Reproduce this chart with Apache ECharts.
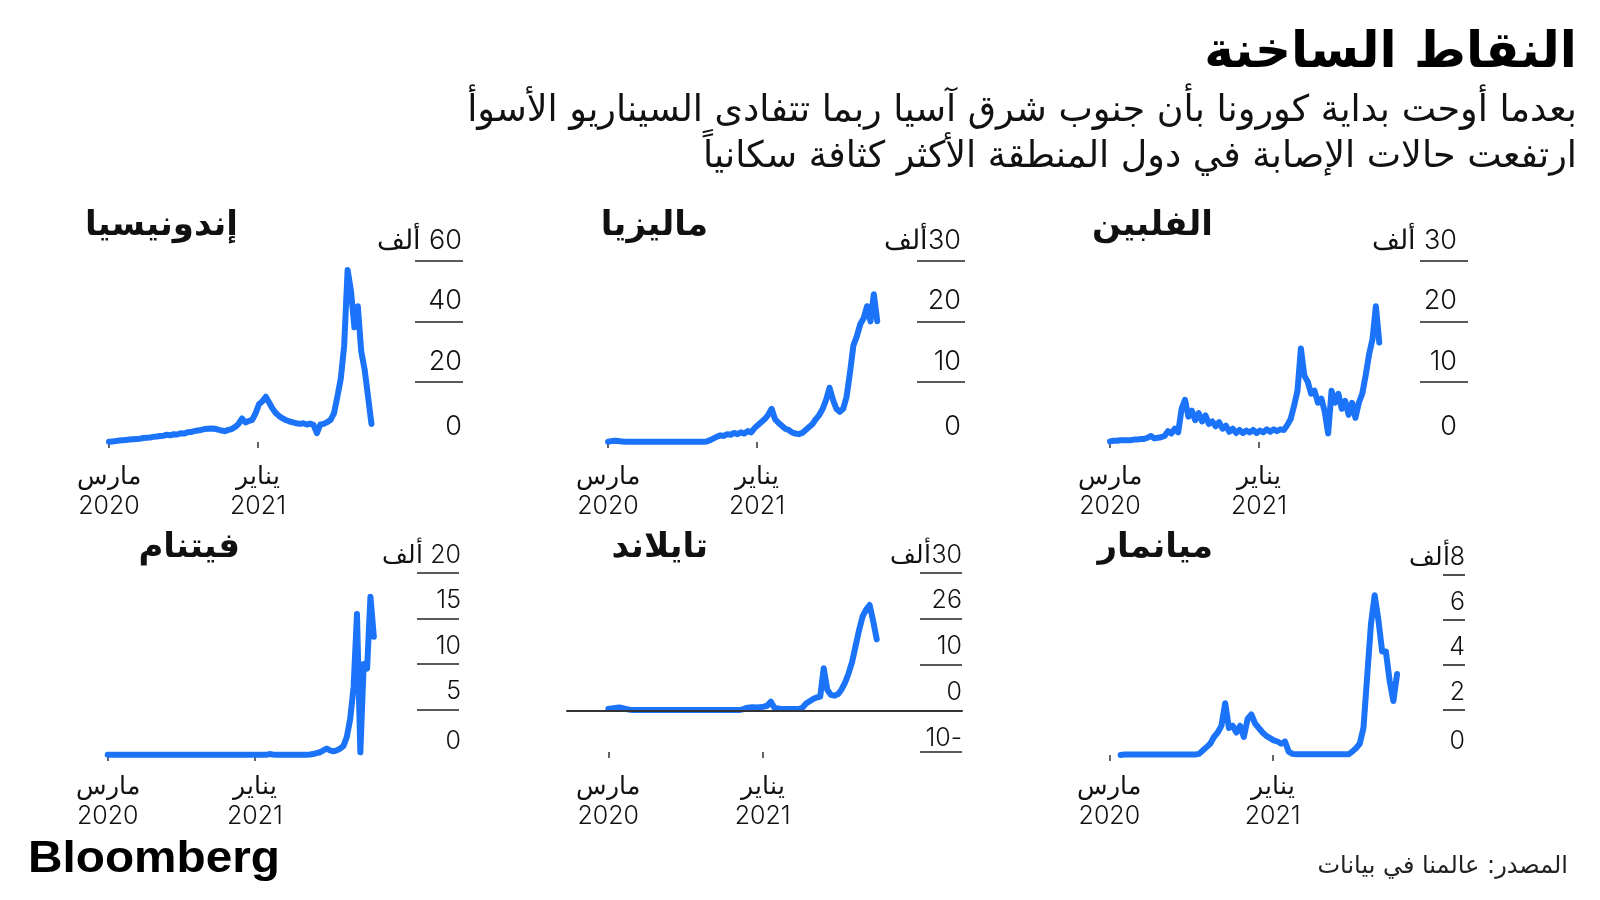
<!DOCTYPE html>
<html>
<head>
<meta charset="utf-8">
<script src="https://cdn.jsdelivr.net/npm/echarts@6/dist/echarts.min.js"></script>
<style>
html,body{margin:0;padding:0;background:#fff;}
#chart{width:1600px;height:900px;}
</style>
</head>
<body>
<div id="chart" dir="rtl"></div>
<script>
// ---------------- DATA ----------------
// x values are days since 1 March 2020; series are weekly values (thousands of daily cases)
const weekStep = 7;
const xTickDays = [0, 306];
const xTickLabels = ['مارس\n2020', 'يناير\n2021'];

const countryNames = ['الفلبين', 'ماليزيا', 'إندونيسيا', 'ميانمار', 'تايلاند', 'فيتنام'];

const philippines = [0.1,0.2,0.2,0.3,0.3,0.3,0.3,0.4,0.4,0.5,
  0.5,0.7,1.0,0.6,0.7,0.8,1.0,1.8,1.4,2.2,
  1.6,5.5,7.0,4.2,5.2,3.6,4.8,3.4,4.4,3.0,
  3.4,2.6,3.3,2.2,2.7,1.7,2.2,1.5,2.0,1.5,
  1.9,1.6,2.0,1.5,1.9,1.6,2.1,1.7,2.1,1.8,
  2.1,2.0,2.8,3.8,6.0,8.5,15.5,11,10,8.0,
  8.5,6.5,7.2,5.0,1.4,8.5,6.5,8.0,5.5,6.8,
  4.5,6.5,4.0,6.5,8.0,11,14.5,17,22.5,16.5];

const malaysia = [0.05,0.15,0.2,0.15,0.1,0.05,0.03,0.03,0.03,0.03,
  0.03,0.03,0.03,0.03,0.03,0.03,0.03,0.03,0.03,0.03,
  0.03,0.03,0.03,0.03,0.03,0.03,0.03,0.03,0.05,0.1,
  0.3,0.6,0.9,1.1,1.0,1.3,1.2,1.5,1.3,1.6,
  1.4,1.8,1.6,2.3,2.8,3.3,3.8,4.5,5.5,3.8,
  3.2,2.7,2.2,2.0,1.6,1.4,1.3,1.5,2.0,2.5,
  3.0,3.8,4.5,5.5,7.0,9.0,7.0,5.5,5.0,5.5,
  7.5,11.5,16,17.5,19.5,20.5,22.5,20,24.5,20];

const indonesia = [0.1,0.2,0.3,0.5,0.6,0.7,0.8,0.9,1.0,1.1,
  1.3,1.4,1.5,1.7,1.8,2.0,2.1,2.4,2.2,2.6,
  2.5,2.9,2.8,3.2,3.3,3.6,3.8,4.0,4.3,4.4,
  4.5,4.4,4.1,3.8,3.6,4.0,4.3,5.0,6.0,7.8,
  6.5,7.0,7.3,9.5,12.5,13.5,15,13,11,9.5,
  8.5,7.8,7.2,6.8,6.5,6.2,6.0,6.2,5.8,6.1,
  5.7,2.9,5.8,6.0,6.6,7.3,9.5,15,21,32,
  57,50,38,45,30,24,15,6];

const myanmarStartWeek = 3;
const myanmar = [0,
  0.02,0.02,0.02,0.02,0.02,0.02,0.02,0.02,0.02,0.02,
  0.02,0.02,0.02,0.02,0.02,0.02,0.02,0.02,0.02,0.02,
  0.05,0.2,0.35,0.5,0.8,1.0,1.3,2.3,1.2,1.3,
  1.0,1.3,0.8,1.6,1.8,1.4,1.2,1.0,0.85,0.75,
  0.65,0.6,0.5,0.6,0.15,0.05,
  0.03,0.03,0.03,0.03,0.03,0.03,0.03,0.03,0.03,0.03,0.03,0.03,0.03,0.03,0.03,
  0.15,0.3,0.5,1.2,3.5,5.8,7.1,6.0,4.6,4.6,3.3,2.4,3.6];

const thailand = [0.3,0.4,0.5,0.6,0.5,0.3,0.15,
  0.05,0.05,0.05,0.05,0.05,0.05,0.05,0.05,0.05,0.05,
  0.05,0.05,0.05,0.05,0.05,0.05,0.05,0.05,0.05,0.05,
  0.05,0.05,0.05,0.05,0.05,0.05,0.05,0.05,0.05,0.05,0.05,
  0.2,0.5,0.6,0.7,0.6,0.7,0.8,1.0,1.9,0.6,
  0.4,0.3,0.3,0.3,0.3,0.3,0.3,0.6,1.5,2.0,
  2.5,2.8,3.0,9.2,4.5,3.4,3.2,3.5,4.5,6.0,
  8.0,10.5,14,17.5,20.5,22,23,19.5,15.5];

const vietnam = [0.02,0.02,0.02,0.02,0.02,0.02,0.02,0.02,0.02,0.02,
  0.02,0.02,0.02,0.02,0.02,0.02,0.02,0.02,0.02,0.02,
  0.02,0.02,0.02,0.02,0.02,0.02,0.02,0.02,0.02,0.02,
  0.02,0.02,0.02,0.02,0.02,0.02,0.02,0.02,0.02,0.02,
  0.02,0.02,0.02,0.02,0.02,0.02,0.02,0.02,0.1,0.05,
  0.03,0.03,0.03,0.03,0.03,0.03,0.03,0.03,0.03,0.03,
  0.05,0.1,0.2,0.3,0.5,0.7,0.5,0.4,0.5,0.7,
  1.0,2.0,4.0,7.5,15.5,0.3,10,9.5,17.4,13];

// y-axis tick values and their labels
const phTicks = [0, 10, 20, 30];       const phLabels = ['0', '10', '20', '30 ألف'];
const myTicks = [0, 10, 20, 30];       const myLabels = ['0', '10', '20', '30ألف'];
const idTicks = [0, 20, 40, 60];       const idLabels = ['0', '20', '40', '60 ألف'];
const mmTicks = [0, 2, 4, 6, 8];       const mmLabels = ['0', '2', '4', '6', '8ألف'];
const thTicks = [-9.1, 0, 10, 20, 30]; const thLabels = ['-10', '0', '10', '26', '30ألف'];
const vnTicks = [0, 5, 10, 15, 20];    const vnLabels = ['0', '5', '10', '15', '20 ألف'];

const titleText = 'النقاط الساخنة';
const subtitleLines = ['بعدما أوحت بداية كورونا بأن جنوب شرق آسيا ربما تتفادى السيناريو الأسوأ',
  'ارتفعت حالات الإصابة في دول المنطقة الأكثر كثافة سكانياً'];
const sourceText = 'المصدر: عالمنا في بيانات';
const brandText = 'Bloomberg';

// ---------------- LAYOUT ----------------
const BLUE = '#1a73f8';
const INK = '#111';
const AR = '"DejaVu Sans"';
const NUM = 'Inter, "DejaVu Sans"';

const panels = [
  {name: countryNames[0], values: philippines, start: 0, ticks: phTicks, labels: phLabels,
   left: 1090, axisX: 1468, top: 261, bottom: 442, xMin: -41.1, xMax: 735.2,
   tickLen: 48, labelMargin: 11, yFont: 27, gapN: 40, gapB: 30, xMargin: 19,
   titleX: 1213, titleY: 226},
  {name: countryNames[1], values: malaysia, start: 0, ticks: myTicks, labels: myLabels,
   left: 580, axisX: 965, top: 261, bottom: 442, xMin: -57.5, xMax: 733.2,
   tickLen: 48, labelMargin: 4, yFont: 27, gapN: 40, gapB: 30, xMargin: 19,
   titleX: 708, titleY: 226},
  {name: countryNames[2], values: indonesia, start: 0, ticks: idTicks, labels: idLabels,
   left: 85, axisX: 463, top: 261, bottom: 442, xMin: -49.3, xMax: 727,
   tickLen: 48, labelMargin: 1, yFont: 27, gapN: 40, gapB: 30, xMargin: 19,
   titleX: 238, titleY: 226},
  {name: countryNames[3], values: myanmar, start: myanmarStartWeek, ticks: mmTicks, labels: mmLabels,
   left: 1090, axisX: 1465, top: 575, bottom: 755, xMin: -36.2, xMax: 666.2,
   tickLen: 22, labelMargin: 0, yFont: 25, gapN: 36, gapB: 28, xMargin: 16,
   titleX: 1213, titleY: 548},
  {name: countryNames[4], values: thailand, start: 0, ticks: thTicks, labels: thLabels,
   left: 567, axisX: 962, top: 573, bottom: 752, xMin: -81.8, xMax: 701,
   tickLen: 42, labelMargin: 0, yFont: 25, gapN: 36, gapB: 28, xMargin: 19, zeroLine: true,
   titleX: 708, titleY: 548},
  {name: countryNames[5], values: vietnam, start: 0, ticks: vnTicks, labels: vnLabels,
   left: 85, axisX: 459, top: 573, bottom: 755, xMin: -47.2, xMax: 730,
   tickLen: 42, labelMargin: -2, yFont: 25, gapN: 36, gapB: 28, xMargin: 16,
   titleX: 240, titleY: 548}
];

const grid = [], xAxis = [], yAxis = [], series = [], graphic = [];

panels.forEach((p, k) => {
  grid.push({left: p.left, right: 1600 - p.axisX, top: p.top, height: p.bottom - p.top, containLabel: false});
  xAxis.push({
    type: 'value', gridIndex: k, min: p.xMin, max: p.xMax, position: 'bottom',
    axisLine: {show: false, onZero: false},
    splitLine: {show: false},
    axisTick: {show: true, customValues: xTickDays, length: 6, lineStyle: {color: '#333', width: 1.5}},
    axisLabel: {
      customValues: xTickDays, margin: p.xMargin, color: INK,
      fontFamily: NUM, fontWeight: 300, fontSize: 25, lineHeight: 30, align: 'center',
      formatter: v => xTickLabels[xTickDays.indexOf(v)] || ''
    }
  });
  yAxis.push({
    type: 'value', gridIndex: k, position: 'right',
    min: p.ticks[0], max: p.ticks[p.ticks.length - 1],
    axisLine: {show: false},
    splitLine: {show: false},
    axisTick: {show: false},
    axisLabel: {
      inside: true, margin: p.labelMargin, align: 'right', verticalAlign: 'bottom',
      customValues: p.ticks,
      formatter: v => {
        const i = p.ticks.indexOf(v);
        return (i === 0 ? '{b|' : '{a|') + p.labels[i] + '}';
      },
      rich: {
        a: {fontFamily: NUM, fontWeight: 300, fontSize: p.yFont, lineHeight: p.gapN, color: INK},
        b: {fontFamily: NUM, fontWeight: 300, fontSize: p.yFont, lineHeight: p.gapB, color: INK}
      }
    }
  });
  // short rule under each y label (all but the bottom one, except where the axis goes below zero)
  const ruleVals = p.zeroLine ? p.ticks : p.ticks.slice(1);
  const pxPerDay = (p.axisX - p.left) / (p.xMax - p.xMin);
  const ruleStart = p.xMax - p.tickLen / pxPerDay;
  series.push({
    type: 'line', xAxisIndex: k, yAxisIndex: k, showSymbol: false, silent: true,
    lineStyle: {color: BLUE, width: 6, join: 'round', cap: 'round'},
    data: p.values.map((v, i) => [(p.start + i) * weekStep, v]),
    markLine: {
      silent: true, symbol: 'none', animation: false,
      label: {show: false},
      lineStyle: {color: '#222', width: 1.6, type: 'solid'},
      emphasis: {disabled: true},
      data: ruleVals.map(v => [{coord: [ruleStart, v]}, {coord: [p.xMax, v]}])
    }
  });
  graphic.push({type: 'text', style: {text: p.name, x: p.titleX, y: p.titleY,
    textAlign: 'right', textVerticalAlign: 'middle', fill: '#111', font: 'bold 34px ' + AR}});
});

// Thailand zero baseline (drawn above the series)
const th = 4;
xAxis.push({
  type: 'value', gridIndex: th, min: panels[th].xMin, max: panels[th].xMax, position: 'bottom', z: 10,
  axisLine: {show: true, onZero: true, lineStyle: {color: '#333', width: 2}},
  axisTick: {show: false}, axisLabel: {show: false}, splitLine: {show: false}
});

graphic.push(
  {type: 'text', style: {text: titleText, x: 1577, y: 54, textAlign: 'right', textVerticalAlign: 'middle',
    fill: '#000', font: 'bold 50px ' + AR}},
  {type: 'text', style: {text: subtitleLines[0], x: 1577, y: 112, textAlign: 'right', textVerticalAlign: 'middle',
    fill: '#111', font: '36.5px ' + AR}},
  {type: 'text', style: {text: subtitleLines[1], x: 1577, y: 158, textAlign: 'right', textVerticalAlign: 'middle',
    fill: '#111', font: '36.5px ' + AR}},
  {type: 'text', x: 28, y: 860, scaleX: 1.085, style: {text: brandText, x: 0, y: 0, textAlign: 'left', textVerticalAlign: 'middle',
    fill: '#000', font: 'bold 44px "Liberation Sans"'}},
  {type: 'text', style: {text: sourceText, x: 1568, y: 867, textAlign: 'right', textVerticalAlign: 'middle',
    fill: '#222', font: '24px ' + AR}}
);

const chart = echarts.init(document.getElementById('chart'), null, {renderer: 'canvas'});
chart.setOption({
  backgroundColor: '#fff',
  animation: false,
  grid, xAxis, yAxis, series, graphic
});
</script>
</body>
</html>
